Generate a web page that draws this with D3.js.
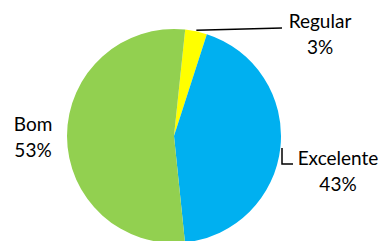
<!DOCTYPE html>
<html><head><meta charset="utf-8">
<script src="https://cdn.jsdelivr.net/npm/d3@7"></script>
<style>
html,body{margin:0;padding:0;background:#fff;}
svg{display:block;}
text{font-family:Lato,"Open Sans",sans-serif;font-size:19px;fill:#000;}
</style></head><body>
<script>
const categories = ["Regular", "Excelente", "Bom"];
const values = [3.3, 43.4, 53.3];
const colors = ["#FFFF00", "#00B0F0", "#92D050"];

const W = 384, H = 241;
const cx = 174, cy = 136, R = 107;
const startDeg = 6;

const svg = d3.select("body").append("svg").attr("width", W).attr("height", H);
const g = svg.append("g").attr("transform", `translate(${cx},${cy})`);

const pie = d3.pie().sort(null)
  .startAngle(startDeg * Math.PI / 180)
  .endAngle((startDeg + 360) * Math.PI / 180);
const arcs = pie(values);
const arc = d3.arc().innerRadius(0).outerRadius(R);
const total = d3.sum(values);
const pct = d3.format(".0%");

g.selectAll("path.slice").data(arcs).enter().append("path")
  .attr("class", "slice")
  .attr("d", arc)
  .attr("fill", (d, i) => colors[i]);

// label layout (relative to pie center)
const labelPos = [
  {x: 146, y: -108},
  {x: 164, y: 29},
  {x: -141, y: -5}
];
const lineGap = 26;

labelPos.forEach((p, i) => {
  const t = g.append("text").attr("text-anchor", "middle");
  t.append("tspan").attr("x", p.x).attr("y", p.y).text(categories[i]);
  t.append("tspan").attr("x", p.x).attr("y", p.y + lineGap).text(pct(values[i] / total));
});

// leader lines
const a0 = (arcs[0].startAngle + arcs[0].endAngle) / 2;
const p0 = [Math.sin(a0) * (R + 1), -Math.cos(a0) * (R + 1)];
g.append("path")
  .attr("d", d3.line()([p0, [108, -108]]))
  .attr("fill", "none").attr("stroke", "#000").attr("stroke-width", 1.5);

g.append("path")
  .attr("d", d3.line()([[108, 12], [108, 28], [119, 28]]))
  .attr("fill", "none").attr("stroke", "#000").attr("stroke-width", 1.5);
</script>
</body></html>
